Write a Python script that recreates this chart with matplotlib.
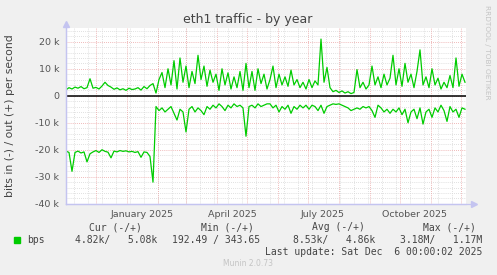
import numpy as np
import pandas as pd
import matplotlib
matplotlib.use('Agg')
import matplotlib.pyplot as plt
from matplotlib.lines import Line2D
from matplotlib.patches import Rectangle

# datos: un punto cada 3 dias desde 2024-11-01, valores en miles de bits/s
start = pd.Timestamp('2024-11-01')
end = pd.Timestamp('2025-12-06')

out_k = [2.2, 3.0, 2.5, 3.2, 2.8, 3.4, 2.6, 3.0, 6.3, 2.8,
         3.1, 2.5, 3.6, 5.0, 3.8, 3.2, 2.4, 2.9, 2.2, 2.6,
         2.0, 2.8, 2.3, 2.5, 3.0, 2.1, 3.4, 2.6, 3.8, 4.5,
         1.0, 6.0, 8.6, 3.0, 10.0, 4.0, 13.0, 2.5, 14.0, 5.0,
         11.0, 3.0, 9.0, 4.5, 15.0, 6.0, 11.0, 3.5, 9.5, 5.0,
         8.0, 2.0, 10.0, 4.0, 8.5, 2.5, 7.0, 3.0, 9.0, 2.0,
         12.0, 3.0, 9.0, 2.0, 10.0, 4.5, 8.0, 2.5, 6.0, 11.0,
         3.0, 8.0, 4.0, 7.0, 3.5, 9.5, 4.0, 6.0, 3.0, 5.0,
         2.5, 6.0, 3.0, 5.5, 4.0, 21.0, 5.0, 10.5, 3.0, 1.5,
         2.0, 1.2, 1.8, 1.0, 1.5, 0.8, 1.2, 9.7, 3.0, 5.0,
         2.5, 4.0, 11.0, 4.0, 7.0, 3.0, 8.0, 4.0, 6.5, 15.0,
         4.0, 10.0, 3.5, 12.0, 5.0, 8.0, 3.0, 9.0, 17.0, 4.0,
         7.0, 3.0, 10.0, 4.0, 6.5, 2.5, 5.0, 3.0, 7.5, 3.0,
         14.0, 3.5, 8.0, 5.0]

in_k = [-20.5, -21.0, -28.0, -21.0, -20.5, -21.2, -20.8, -24.5, -21.5, -20.8,
        -20.3, -21.0, -20.0, -20.6, -20.9, -23.0, -20.5, -20.8, -20.3, -20.6,
        -20.4, -20.8, -20.6, -21.0, -20.7, -22.8, -20.8, -21.0, -22.5, -32.0,
        -4.0, -5.5, -4.5, -6.0, -5.0, -4.0, -6.5, -9.0, -5.0, -6.0,
        -13.4, -5.0, -4.0, -6.0, -4.5, -5.5, -7.0, -4.0, -5.0, -3.5,
        -4.5, -3.0, -4.0, -5.5, -3.5, -4.5, -3.0, -4.0, -3.5, -4.5,
        -15.0, -4.0, -3.5, -4.5, -3.0, -4.0, -3.5, -3.0, -3.0, -4.5,
        -3.5, -6.0, -4.0, -5.0, -3.5, -6.5, -4.0, -5.0, -3.5, -4.5,
        -3.5, -5.0, -3.5, -4.0, -5.5, -3.5, -6.5, -4.0, -3.5, -3.0,
        -3.2, -3.0, -3.5, -4.0, -4.5, -5.5, -5.0, -4.5, -5.0, -4.0,
        -4.5, -4.0, -5.5, -8.0, -3.5, -4.5, -6.0, -5.0, -6.5, -5.0,
        -6.0, -4.5, -7.0, -5.0, -10.0, -6.0, -5.0, -8.5, -4.5, -10.5,
        -6.0, -5.0, -8.0, -4.5, -6.0, -3.5, -5.5, -9.5, -4.0, -6.0,
        -5.0, -8.0, -4.5, -5.0]

ytick_vals = [-40, -30, -20, -10, 0, 10, 20]
ytick_labels = ['-40 k', '-30 k', '-20 k', '-10 k', '0', '10 k', '20 k']
xlabel_months = ['January 2025', 'April 2025', 'July 2025', 'October 2025']

legend_heads = ['Cur (-/+)', 'Min (-/+)', 'Avg (-/+)', 'Max (-/+)']
legend_vals = ['4.82k/   5.08k', '192.49 / 343.65', '8.53k/   4.86k', '3.18M/   1.17M']

dates = start + pd.to_timedelta(np.arange(len(out_k)) * 3, unit='D')

W, H = 497, 275
def fx(x):
    return x / W
def fy(y):
    return 1 - y / H

bg = '#f0f0f0'
verde = '#00cc00'
mgrid = '#eba3a3'
grid = '#d6d6d6'
ejes = '#c4c4f0'

fig = plt.figure(figsize=(W / 100, H / 100), dpi=100, facecolor=bg)
ax = fig.add_axes([fx(66), fy(204), 400 / W, 176 / H])
ax.set_facecolor('white')

ax.set_xlim(start, end)
ax.set_ylim(-40.1, 25.1)

# rejilla menor y mayor
for v in np.arange(-40, 26, 2):
    if v % 10 != 0:
        ax.axhline(v, color=grid, lw=0.6, ls=(0, (1, 1.5)), zorder=1)
for d in pd.date_range(start + pd.Timedelta(days=8), end, freq='14D'):
    ax.axvline(d, color=grid, lw=0.6, ls=(0, (1, 1.5)), zorder=1)
for v in ytick_vals:
    ax.axhline(v, color=mgrid, lw=0.6, ls=(0, (1, 1.5)), zorder=1.5)
for d in pd.date_range('2024-12-01', end, freq='MS'):
    ax.axvline(d, color=mgrid, lw=0.6, ls=(0, (1, 1.5)), zorder=1.5)

ax.axhline(0, color='black', lw=1.1, zorder=2)
ax.plot(dates, out_k, color=verde, lw=0.9, zorder=3)
ax.plot(dates, in_k, color=verde, lw=0.9, zorder=3)

ax.set_yticks(ytick_vals)
ax.set_yticklabels(ytick_labels)
label_pos = [pd.Timestamp('2025-%02d-16' % m) for m in (1, 4, 7, 10)]
ax.set_xticks(label_pos)
ax.set_xticklabels(xlabel_months)
ax.tick_params(axis='both', length=0, labelsize=6.8, colors='#555555', pad=5)
ax.tick_params(axis='x', pad=4)

for s in ['top', 'right']:
    ax.spines[s].set_visible(False)
for s in ['left', 'bottom']:
    ax.spines[s].set_color(ejes)
    ax.spines[s].set_linewidth(0.9)

# flechas de los ejes
fig.add_artist(Line2D([fx(66), fx(66)], [fy(204), fy(24)], color=ejes, lw=0.9))
fig.add_artist(Line2D([fx(66), fx(474)], [fy(204), fy(204)], color=ejes, lw=0.9))
fig.add_artist(Line2D([fx(66)], [fy(24)], marker='^', ms=4, color=ejes, lw=0))
fig.add_artist(Line2D([fx(474)], [fy(204)], marker='>', ms=4, color=ejes, lw=0))

fig.text(fx(248), fy(19), 'eth1 traffic - by year', ha='center', va='center',
         fontsize=9, color='#444444')
fig.text(fx(10), fy(116), 'bits in (-) / out (+) per second', rotation=90,
         ha='center', va='center', fontsize=7.8, color='#444444')
fig.text(fx(487), fy(5), 'RRDTOOL / TOBI OETIKER', rotation=-90, ha='center',
         va='top', fontsize=5.3, color='#c4c4c4')

mono = 'DejaVu Sans Mono'
heads_x = [115, 227, 338, 449]
vals_x = [157, 260, 375, 482]
for hx, t in zip(heads_x, legend_heads):
    fig.text(fx(hx), fy(227), t, ha='center', va='center', family=mono,
             fontsize=7, color='#444444')
for vx, t in zip(vals_x, legend_vals):
    fig.text(fx(vx), fy(240), t, ha='right', va='center', family=mono,
             fontsize=7, color='#444444')
fig.add_artist(Rectangle((fx(14), fy(243)), 6 / W, 6 / H, color=verde))
fig.text(fx(27), fy(240), 'bps', ha='left', va='center', family=mono,
         fontsize=7, color='#444444')
fig.text(fx(482), fy(252), 'Last update: Sat Dec  6 00:00:02 2025', ha='right',
         va='center', family=mono, fontsize=7, color='#444444')
fig.text(fx(248), fy(264), 'Munin 2.0.73', ha='center', va='center',
         fontsize=5.5, color='#c4c4c4')

fig.savefig('out.png', dpi=100, facecolor=bg)
